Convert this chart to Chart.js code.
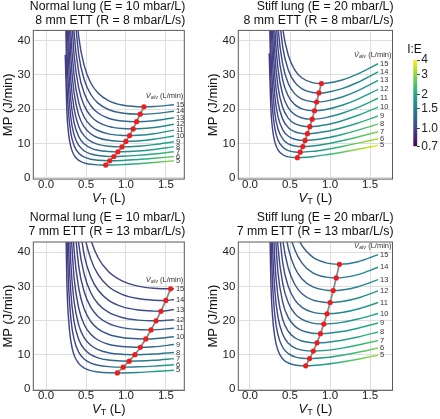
<!DOCTYPE html>
<html><head><meta charset="utf-8">
<script src="https://cdn.jsdelivr.net/npm/chart.js@4.4.1/dist/chart.umd.min.js"></script>
<style>
html,body{margin:0;padding:0;background:#fff;width:440px;height:419px;overflow:hidden}
canvas{position:absolute}
</style></head><body>
<canvas id="c1" width="215" height="209" style="left:0px;top:0px;width:215px;height:209px"></canvas>
<canvas id="c2" width="240" height="209" style="left:200px;top:0px;width:240px;height:209px"></canvas>
<canvas id="c3" width="215" height="210" style="left:0px;top:209px;width:215px;height:210px"></canvas>
<canvas id="c4" width="240" height="210" style="left:200px;top:209px;width:240px;height:210px"></canvas>
<canvas id="cb" width="45" height="115" style="left:395px;top:40px;width:45px;height:115px"></canvas>
<script>
// ---------------- data ----------------
const valv = [5,6,7,8,9,10,11,12,13,14,15];            // alveolar ventilation (L/min)
const vtGrid = [0.24,0.26,0.28,0.31,0.35,0.41,0.48,0.56,0.65,0.78,0.95,1.15,1.35,1.6]; // VT (L)
const xTicks = [0,0.5,1.0,1.5];
const xTickLabels = ['0.0','0.5','1.0','1.5'];
const yTicks = [0,10,20,30,40];
const cbTicks = [0.7,1,1.5,2,3,4];
const cbTickLabels = ['0.7','1.0','1.5','2','3','4'];

// Panel 1: Normal lung, 8 mm ETT  (MP in J/min at vtGrid, one row per V̇alv)
const p1MP = [
[35.9,19.45,13.17,9.0,6.59,5.06,4.3,3.92,3.75,null,3.83,4.1,4.45,4.95],
[53.2,28.61,19.24,13.03,9.44,7.14,5.99,5.38,5.08,null,5.03,5.3,5.67,6.2],
[72.8,38.94,26.05,17.51,12.58,9.41,7.8,6.93,6.47,6.22,6.25,6.52,6.94,7.6],
[null,50.85,33.88,22.66,16.17,11.98,9.84,8.66,8.01,7.63,7.56,7.81,8.26,9.0],
[null,64.5,42.87,28.54,20.25,14.9,12.14,10.6,9.73,9.18,null,9.19,9.66,10.5],
[null,null,53.1,35.22,24.89,18.21,14.74,12.79,11.67,10.92,10.61,10.73,11.22,12.2],
[null,null,64.4,42.61,30.0,21.84,17.59,15.19,13.78,12.8,12.35,12.38,12.84,13.9],
[null,null,null,51.19,35.94,26.06,20.9,17.97,16.23,14.99,14.36,14.28,14.65,15.6],
[null,null,null,60.6,42.48,30.7,24.53,21.01,18.9,17.37,16.56,null,16.63,17.5],
[null,null,null,null,49.57,35.72,28.46,24.29,21.78,19.92,18.89,null,18.71,19.4],
[null,null,null,null,56.91,40.9,32.49,27.64,24.7,22.5,21.21,20.73,20.78,21.3]
];
const p1MinVT = [0.746,0.797,0.849,0.899,0.95,0.998,1.045,1.09,1.133,1.177,1.225];
const p1MinMP = [3.7,4.95,6.2,7.55,9.0,10.6,12.3,14.25,16.35,18.55,20.7];
const p1IE = [2.9,2.6,2.35,2.15,2.0,1.85,1.75,1.65,1.55,1.48,1.41];

// Panel 2: Stiff lung, 8 mm ETT
const p2MP = [
[36.32,20.6,14.52,10.47,8.14,6.71,6.08,null,5.89,6.15,6.7,7.46,8.31,9.45],
[52.47,29.31,20.38,14.45,11.03,8.9,7.93,7.52,null,7.69,8.26,9.12,10.09,11.4],
[70.87,39.16,26.98,18.88,14.21,11.29,9.9,9.28,null,9.27,9.85,10.8,11.89,13.4],
[null,50.47,34.52,23.94,17.83,13.98,12.12,11.25,null,11.02,11.6,12.64,13.89,15.65],
[null,63.59,43.25,29.76,21.97,17.03,14.62,13.43,12.93,12.92,13.48,14.6,15.99,18.0],
[null,null,53.13,36.31,26.59,20.41,17.34,15.79,15.09,null,15.45,16.65,18.24,20.6],
[null,null,64.29,43.69,31.78,24.18,20.37,18.4,17.45,null,17.55,18.8,20.53,23.2],
[null,null,null,52.05,37.65,28.44,23.79,21.34,20.11,null,19.9,21.14,22.95,25.8],
[null,null,null,61.06,43.97,33.01,27.44,24.47,22.92,22.15,22.35,23.56,25.41,28.4],
[null,null,null,null,50.89,37.98,31.39,27.83,25.92,24.88,24.9,26.02,27.86,30.9],
[null,null,null,null,58.46,43.39,35.66,31.44,29.12,27.76,27.56,28.54,30.32,33.3]
];
const p2MinVT = [0.592,0.627,0.659,0.688,0.717,0.747,0.777,0.805,0.832,0.861,0.892];
const p2MinMP = [5.85,7.45,9.1,10.9,12.85,14.9,17.1,19.55,22.1,24.75,27.5];
const p2IE = [3.8,3.3,2.9,2.6,2.35,2.2,2.05,1.95,1.85,1.78,1.73];

// Panel 3: Normal lung, 7 mm ETT
const p3MP = [
[58.81,31.36,20.91,13.99,9.99,7.42,6.09,5.37,4.98,4.74,4.71,4.85,5.11,5.5],
[null,46.68,30.98,20.61,14.6,10.72,8.71,7.6,6.96,6.55,null,6.49,6.7,7.1],
[null,64.18,42.47,28.11,19.8,14.42,11.62,10.04,9.11,8.47,8.18,8.19,8.42,8.9],
[null,null,55.64,36.7,25.74,18.63,14.92,12.8,11.53,10.63,10.15,null,10.23,10.7],
[null,null,null,46.72,32.66,23.53,18.74,16.0,14.34,13.11,12.43,null,12.35,13.0],
[null,null,null,58.51,40.79,29.29,23.23,19.74,17.61,16.01,15.06,14.68,14.71,15.3],
[null,null,null,null,49.84,35.68,28.21,23.88,21.23,19.2,17.96,17.4,null,17.8],
[null,null,null,null,59.21,42.28,33.34,28.15,24.95,22.47,20.92,20.16,null,20.25],
[null,null,null,null,null,49.43,38.89,32.76,28.95,25.99,24.09,23.11,22.78,23.25],
[null,null,null,null,null,57.56,45.2,37.99,33.5,29.98,27.69,26.46,25.98,26.2],
[null,null,null,null,null,null,52.09,43.71,38.47,34.34,31.61,30.1,29.47,29.35]
];
const p3MinVT = [0.892,0.965,1.04,1.112,1.18,1.248,1.313,1.376,1.438,1.499,1.558];
const p3MinMP = [4.7,6.4,8.15,10.05,12.2,14.65,17.3,19.95,22.75,25.9,29.3];
const p3IE = [2.0,1.8,1.62,1.5,1.4,1.3,1.22,1.16,1.1,1.06,1.03];

// Panel 4: Stiff lung, 7 mm ETT
const p4MP = [
[58.64,32.09,21.91,15.16,11.26,8.8,7.61,7.04,6.82,6.86,7.22,7.89,8.72,9.9],
[null,46.61,31.56,21.58,15.82,12.15,10.34,9.42,9.01,null,9.22,9.89,10.75,12.0],
[null,63.49,42.72,28.96,21.01,15.92,13.37,12.03,11.37,null,11.31,11.97,12.86,14.2],
[null,null,55.76,37.55,27.02,20.26,16.83,14.99,14.03,13.54,13.62,14.26,15.21,16.7],
[null,null,null,47.55,34.01,25.29,20.83,18.4,17.08,16.33,16.26,16.81,17.77,19.3],
[null,null,null,58.5,41.63,30.75,25.15,22.06,20.34,19.27,null,19.49,20.46,22.1],
[null,null,null,null,50.05,36.77,29.9,26.08,23.9,22.49,null,22.39,23.42,25.3],
[null,null,null,null,59.55,43.55,35.24,30.58,27.88,26.07,25.33,25.58,26.62,28.7],
[null,null,null,null,null,50.93,41.04,35.46,32.19,29.93,28.9,28.97,29.93,32.0],
[null,null,null,null,null,58.94,47.32,40.73,36.83,34.07,32.72,32.58,33.46,35.6],
[null,null,null,null,null,null,54.31,46.58,41.96,38.64,36.89,null,37.24,39.3]
];
const p4MinVT = [0.696,0.744,0.791,0.837,0.88,0.922,0.962,1.001,1.039,1.077,1.117];
const p4MinMP = [6.8,8.9,11.1,13.5,16.2,19.0,22.0,25.3,28.8,32.5,36.5];
const p4IE = [3.2,2.85,2.55,2.3,2.15,2.0,1.9,1.8,1.72,1.66,1.62];

const titles1 = ['Normal lung (E = 10 mbar/L)','8 mm ETT (R = 8 mbar/L/s)'];
const titles2 = ['Stiff lung (E = 20 mbar/L)','8 mm ETT (R = 8 mbar/L/s)'];
const titles3 = ['Normal lung (E = 10 mbar/L)','7 mm ETT (R = 13 mbar/L/s)'];
const titles4 = ['Stiff lung (E = 20 mbar/L)','7 mm ETT (R = 13 mbar/L/s)'];

// ---------------- style / layout ----------------
const FF = '"Liberation Sans", Arial, Helvetica, sans-serif';
Chart.defaults.font.family = FF;
const VIRIDIS = ['#440154','#482475','#414487','#355f8d','#2a788e','#21918c','#22a884','#44bf70','#7ad151','#bddf26','#fde725'];
const IE_LEFT = 0.95;
const layouts = {
  c1:{l:33.3,r:184.3,t:30.4,b:179.1,xr:[-0.16,1.73]},
  c2:{l:38.3,r:192.5,t:30.4,b:179.1,xr:[-0.146,1.78]},
  c3:{l:33.3,r:184.3,t:33.0,b:181.4,xr:[-0.16,1.73]},
  c4:{l:38.3,r:192.5,t:33.0,b:181.4,xr:[-0.146,1.78]}
};
const panels = [
  {id:'c1', title:titles1, mp:p1MP, minVT:p1MinVT, minMP:p1MinMP, ie:p1IE},
  {id:'c2', title:titles2, mp:p2MP, minVT:p2MinVT, minMP:p2MinMP, ie:p2IE},
  {id:'c3', title:titles3, mp:p3MP, minVT:p3MinVT, minMP:p3MinMP, ie:p3IE},
  {id:'c4', title:titles4, mp:p4MP, minVT:p4MinVT, minMP:p4MinMP, ie:p4IE}
];
const panelById = {};
panels.forEach(p => panelById[p.id] = p);

function hexToRgb(h){ return [parseInt(h.substr(1,2),16),parseInt(h.substr(3,2),16),parseInt(h.substr(5,2),16)]; }
const VIR_RGB = VIRIDIS.map(hexToRgb);
function viridis(t){
  t = Math.max(0, Math.min(1, t));
  const f = t*(VIR_RGB.length-1); const i = Math.min(VIR_RGB.length-2, Math.floor(f)); const u = f - i;
  const a = VIR_RGB[i], b = VIR_RGB[i+1];
  return `rgb(${Math.round(a[0]+(b[0]-a[0])*u)},${Math.round(a[1]+(b[1]-a[1])*u)},${Math.round(a[2]+(b[2]-a[2])*u)})`;
}
function ieColor(ie){
  const lo = Math.log(cbTicks[0]), hi = Math.log(cbTicks[cbTicks.length-1]);
  return viridis((Math.log(ie)-lo)/(hi-lo));
}
function ieAt(x, ieEnd){
  let s = (x-0.3)/1.3; s = Math.max(0, Math.min(1, s)); s = Math.pow(s, 0.8);
  return Math.exp(Math.log(IE_LEFT) + (Math.log(ieEnd)-Math.log(IE_LEFT))*s);
}
function curveGradient(c){
  const chart = c.chart; const ca = chart.chartArea; const ds = c.dataset;
  if (!ca || !ds || ds.ieEnd === undefined) return '#414487';
  const xs = chart.scales.x;
  const v0 = vtGrid[0], v1 = vtGrid[vtGrid.length-1];
  const g = chart.ctx.createLinearGradient(xs.getPixelForValue(v0),0,xs.getPixelForValue(v1),0);
  for (let k=0;k<=12;k++){ const s=k/12; g.addColorStop(s, ieColor(ieAt(v0+s*(v1-v0), ds.ieEnd))); }
  return g;
}
function drawRich(ctx, parts, x, y, align){
  let w = 0;
  parts.forEach(p => { ctx.font = p.f; p.w = ctx.measureText(p.t).width; w += p.w; });
  let cx = align === 'right' ? x - w : (align === 'center' ? x - w/2 : x);
  ctx.textAlign = 'left';
  parts.forEach(p => { ctx.font = p.f; ctx.fillText(p.t, cx, y + (p.dy||0)); cx += p.w; });
}

const decor = {
  id:'decor',
  afterDraw(chart){
    const p = panelById[chart.canvas.id]; if (!p) return;
    const ctx = chart.ctx, ca = chart.chartArea, xs = chart.scales.x, ys = chart.scales.y;
    ctx.save();
    ctx.strokeStyle = '#5a5a5a'; ctx.lineWidth = 1;
    ctx.strokeRect(ca.left, ca.top, ca.right-ca.left, ca.bottom-ca.top);
    ctx.fillStyle = '#111'; ctx.textBaseline = 'middle';
    ctx.font = `12.3px ${FF}`; ctx.textAlign = 'right';
    ctx.fillText(p.title[0], ca.right+1, ca.top-24);
    ctx.fillText(p.title[1], ca.right+1, ca.top-10);
    ctx.save();
    ctx.translate(ca.left-25, (ca.top+ca.bottom)/2); ctx.rotate(-Math.PI/2);
    ctx.textAlign = 'center'; ctx.font = `13px ${FF}`; ctx.fillText('MP (J/min)', 0, 0);
    ctx.restore();
    drawRich(ctx, [{t:'V', f:`italic 13px ${FF}`},{t:'T', f:`9px ${FF}`, dy:3},{t:' (L)', f:`13px ${FF}`}], (ca.left+ca.right)/2, ca.bottom+19, 'center');
    ctx.fillStyle = '#333';
    const xEnd = xs.getPixelForValue(vtGrid[vtGrid.length-1]) + 2;
    p.mp.forEach((row,i) => { ctx.font = `7.5px ${FF}`; ctx.textAlign='left'; ctx.fillText(String(valv[i]), xEnd, ys.getPixelForValue(row[row.length-1])); });
    const last = p.mp[p.mp.length-1];
    const yh = ys.getPixelForValue(last[last.length-1]) - 9;
    drawRich(ctx, [{t:'V\u0307', f:`italic 7.5px ${FF}`},{t:'alv', f:`italic 5.5px ${FF}`, dy:1.5},{t:' (L/min)', f:`7.5px ${FF}`}], ca.right-1, yh, 'right');
    ctx.restore();
  }
};

function makePanel(p){
  const canvas = document.getElementById(p.id);
  const W = canvas.width, H = canvas.height, L = layouts[p.id];
  const datasets = [];
  p.mp.forEach((row,i) => {
    const pts = [];
    row.forEach((v,k) => { if (v !== null) pts.push({x:vtGrid[k], y:v}); });
    pts.push({x:p.minVT[i], y:p.minMP[i]});
    pts.sort((a,b) => a.x-b.x);
    datasets.push({data:pts, ieEnd:p.ie[i], borderColor:curveGradient, borderWidth:1.45, pointRadius:0,
      cubicInterpolationMode:'monotone', borderJoinStyle:'round', order:3});
  });
  const minPts = p.minVT.map((x,i) => ({x:x, y:p.minMP[i]}));
  datasets.push({data:minPts, borderColor:'#8a8a8a', borderWidth:1.8, pointRadius:0, tension:0, order:2});
  datasets.push({data:minPts, showLine:false, pointRadius:2.6, pointBackgroundColor:'#ee1c1c', pointBorderWidth:0, order:1});
  new Chart(canvas, {
    type:'line',
    data:{datasets},
    options:{
      responsive:false, animation:false, devicePixelRatio:1,
      layout:{padding:{left:0, top:L.t, right:W-L.r, bottom:0}},
      plugins:{legend:{display:false}, tooltip:{enabled:false}, title:{display:false}},
      scales:{
        x:{type:'linear', min:L.xr[0], max:L.xr[1],
           afterBuildTicks: s => { s.ticks = xTicks.map(v => ({value:v})); },
           afterFit: s => { s.height = H - L.b; },
           grid:{color:'#dedede', lineWidth:1, drawTicks:false}, border:{display:false},
           ticks:{padding:-1, color:'#222', font:{size:11.5, family:FF}, autoSkip:false, maxRotation:0,
                  callback: v => xTickLabels[xTicks.indexOf(v)]}},
        y:{type:'linear', min:-0.4, max:43,
           afterBuildTicks: s => { s.ticks = yTicks.map(v => ({value:v})); },
           afterFit: s => { s.width = L.l; },
           grid:{color:'#dedede', lineWidth:1, drawTicks:false}, border:{display:false},
           ticks:{padding:3, color:'#222', font:{size:11.5, family:FF}, autoSkip:false,
                  callback: v => String(v)}}
      }
    },
    plugins:[decor]
  });
}
panels.forEach(makePanel);

// colour bar
const cbTitle = {
  id:'cbTitle',
  afterDraw(chart){
    const ctx = chart.ctx; ctx.save();
    ctx.fillStyle = '#111'; ctx.font = `12px ${FF}`; ctx.textAlign='center'; ctx.textBaseline='middle';
    ctx.fillText('I:E', 19.5, 10); ctx.restore();
  }
};
new Chart(document.getElementById('cb'), {
  type:'bar',
  data:{labels:[''], datasets:[{data:[[cbTicks[0], cbTicks[cbTicks.length-1]]],
    backgroundColor: c => {
      const chart = c.chart; const ca = chart.chartArea; if (!ca) return '#21918c';
      const ys = chart.scales.y;
      const g = chart.ctx.createLinearGradient(0, ys.getPixelForValue(cbTicks[0]), 0, ys.getPixelForValue(cbTicks[cbTicks.length-1]));
      VIRIDIS.forEach((col,i) => g.addColorStop(i/(VIRIDIS.length-1), col));
      return g;
    },
    borderWidth:0, barPercentage:1, categoryPercentage:1}]},
  options:{
    responsive:false, animation:false, devicePixelRatio:1,
    layout:{padding:{left:18.3, top:20, right:0, bottom:6.7}},
    plugins:{legend:{display:false}, tooltip:{enabled:false}},
    scales:{
      x:{display:false},
      y:{type:'logarithmic', position:'right', min:cbTicks[0], max:cbTicks[cbTicks.length-1],
         afterBuildTicks: s => { s.ticks = cbTicks.map(v => ({value:v})); },
         afterFit: s => { s.width = 22.7; },
         grid:{display:true, drawOnChartArea:false, drawTicks:true, tickLength:2.5, color:'#333'},
         border:{display:false},
         ticks:{padding:1.5, color:'#222', font:{size:12, family:FF}, autoSkip:false,
                callback: v => cbTickLabels[cbTicks.indexOf(v)]}}
    }
  },
  plugins:[cbTitle]
});
</script>
</body></html>
